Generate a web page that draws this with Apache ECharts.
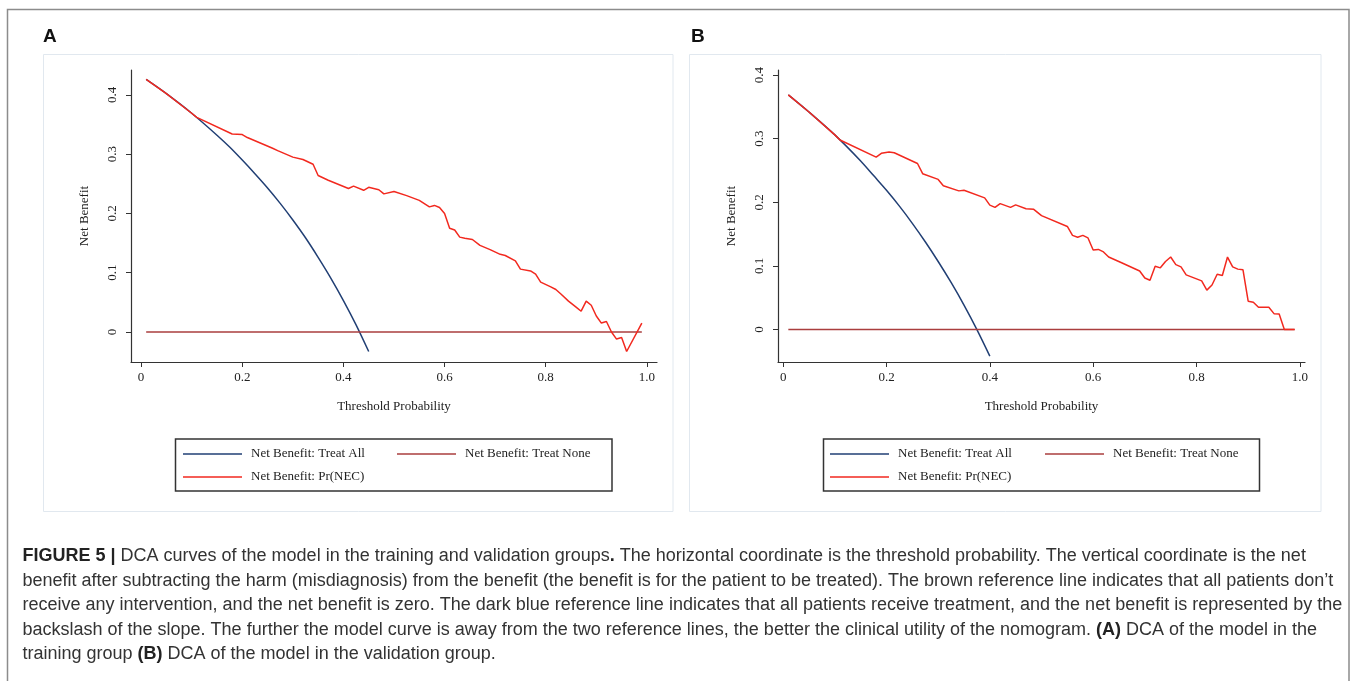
<!DOCTYPE html>
<html>
<head>
<meta charset="utf-8">
<title>DCA curves</title>
<script src="https://cdn.jsdelivr.net/npm/echarts@6/dist/echarts.min.js"></script>
<style>
html,body{margin:0;padding:0;background:#fff;}
#main{width:1357px;height:681px;}
</style>
</head>
<body>
<div id="main"></div>
<script>
// ---- data ----
// A: training group
var thrAllA = [0.01, 0.05, 0.10, 0.15, 0.175, 0.20, 0.225, 0.25, 0.275, 0.30, 0.325, 0.35, 0.375, 0.40, 0.425, 0.45];
var nbAllA  = [0.426, 0.402, 0.369, 0.332, 0.312, 0.290, 0.267, 0.243, 0.217, 0.189, 0.159, 0.126, 0.091, 0.053, 0.012, -0.033];
var thrModelA = [0.01, 0.05, 0.10, 0.11, 0.18, 0.20, 0.21, 0.26, 0.27, 0.30, 0.32, 0.34, 0.35, 0.37, 0.41, 0.42, 0.44, 0.45, 0.47, 0.48, 0.50,
                 0.525, 0.55, 0.57, 0.58, 0.59, 0.60, 0.61, 0.62, 0.63, 0.64, 0.655, 0.67, 0.69, 0.71, 0.72, 0.74, 0.75, 0.77, 0.78, 0.79,
                 0.81, 0.82, 0.83, 0.845, 0.86, 0.87, 0.88, 0.89, 0.90, 0.91, 0.92, 0.93, 0.94, 0.95, 0.96, 0.99];
var nbModelA  = [0.426, 0.402, 0.369, 0.362, 0.334, 0.333, 0.328, 0.310, 0.306, 0.295, 0.291, 0.283, 0.264, 0.256, 0.242, 0.246, 0.239, 0.244, 0.240, 0.233, 0.237,
                 0.230, 0.222, 0.211, 0.2135, 0.210, 0.200, 0.175, 0.172, 0.160, 0.158, 0.156, 0.146, 0.139, 0.131, 0.129, 0.120, 0.106, 0.103, 0.0975, 0.084,
                 0.076, 0.0716, 0.064, 0.052, 0.042, 0.035, 0.052, 0.045, 0.027, 0.015, 0.0176, 0.0, -0.012, -0.0095, -0.033, 0.015];

// B: validation group
var thrAllB = [0.01, 0.05, 0.10, 0.15, 0.175, 0.20, 0.225, 0.25, 0.275, 0.30, 0.325, 0.35, 0.375, 0.40];
var nbAllB  = [0.369, 0.342, 0.306, 0.265, 0.242, 0.219, 0.194, 0.167, 0.138, 0.107, 0.074, 0.0385, 0.0, -0.0417];
var thrModelB = [0.01, 0.05, 0.10, 0.11, 0.18, 0.19, 0.205, 0.215, 0.26, 0.27, 0.30, 0.31, 0.34, 0.35, 0.39, 0.40, 0.41, 0.42, 0.44, 0.45, 0.47,
                 0.485, 0.50, 0.55, 0.56, 0.57, 0.58, 0.59, 0.60, 0.61, 0.62, 0.63, 0.655, 0.69, 0.70, 0.71, 0.72, 0.73, 0.74, 0.75, 0.76,
                 0.77, 0.78, 0.81, 0.82, 0.83, 0.84, 0.85, 0.86, 0.87, 0.88, 0.89, 0.90, 0.91, 0.92, 0.94, 0.95, 0.96, 0.97, 0.99];
var nbModelB  = [0.369, 0.342, 0.306, 0.298, 0.271, 0.277, 0.279, 0.278, 0.261, 0.245, 0.236, 0.226, 0.218, 0.219, 0.207, 0.1955, 0.192, 0.198, 0.192, 0.196, 0.190,
                 0.189, 0.179, 0.162, 0.148, 0.145, 0.148, 0.144, 0.125, 0.126, 0.122, 0.114, 0.105, 0.092, 0.081, 0.0775, 0.0995, 0.097, 0.107, 0.114, 0.102,
                 0.0985, 0.086, 0.0765, 0.062, 0.070, 0.087, 0.085, 0.114, 0.0985, 0.095, 0.094, 0.0445, 0.043, 0.035, 0.035, 0.025, 0.0245, 0.0, 0.0];

// treat none is flat at zero
var thrNone = [0.01, 0.99];
var nbNone  = [0, 0];

var xTicks = [0, 0.2, 0.4, 0.6, 0.8, 1.0];
var yTicks = [0, 0.1, 0.2, 0.3, 0.4];

var seriesNames = ['Net Benefit: Treat All', 'Net Benefit: Treat None', 'Net Benefit: Pr(NEC)'];

// ---- chart ----
var SERIF = '"Liberation Serif", "Times New Roman", serif';
var SANS = '"Liberation Sans", Arial, sans-serif';
var cNavy = '#213f74', cBrown = '#aa3e3e', cRed = '#f2291f';

function zip(xs, ys){
	var out = [];
	for(var i = 0; i < xs.length; i++){
		out.push([xs[i], ys[i]]);
	}
	return out;
}

function fmt(v){
	return v === 0 ? '0' : v.toFixed(1);
}

function xAx(gi, min, max){
	return {
		type : 'value', gridIndex : gi, min : min, max : max,
		name : 'Threshold Probability', nameLocation : 'middle', nameGap : 38,
		nameTextStyle : {fontFamily : SERIF, fontSize : 13, color : '#222'},
		axisLine : {show : true, onZero : false, lineStyle : {color : '#333', width : 1.2}},
		axisTick : {show : true, length : 5, customValues : xTicks, lineStyle : {color : '#333'}},
		axisLabel : {customValues : xTicks, formatter : fmt, margin : 9, fontFamily : SERIF, fontSize : 13, color : '#222'},
		splitLine : {show : false}
	};
}

function yAx(gi, min, max){
	return {
		type : 'value', gridIndex : gi, min : min, max : max,
		name : 'Net Benefit', nameLocation : 'middle', nameGap : 40,
		nameTextStyle : {fontFamily : SERIF, fontSize : 13, color : '#222'},
		axisLine : {show : true, onZero : false, lineStyle : {color : '#333', width : 1.2}},
		axisTick : {show : true, length : 5, customValues : yTicks, lineStyle : {color : '#333'}},
		axisLabel : {customValues : yTicks, formatter : fmt, rotate : 90, margin : 12, fontFamily : SERIF, fontSize : 13, color : '#222'},
		splitLine : {show : false}
	};
}

function lineSeries(name, gi, data, color, smooth){
	return {
		name : name, type : 'line', xAxisIndex : gi, yAxisIndex : gi,
		data : data, symbol : 'none', smooth : smooth, silent : true,
		lineStyle : {color : color, width : 1.5},
		itemStyle : {color : color}
	};
}

// one legend per entry so the two columns sit where Stata put them
function legendItem(name, left, top){
	return {
		data : [name], left : left, top : top, padding : 0,
		icon : 'rect', itemWidth : 59, itemHeight : 1.6, selectedMode : false,
		textStyle : {fontFamily : SERIF, fontSize : 13, color : '#222', padding : [0, 0, 0, 4], lineHeight : 14}
	};
}

var caption = [
	'{b|FIGURE 5 |} DCA curves of the model in the training and validation groups{b|.} The horizontal coordinate is the threshold probability. The vertical coordinate is the net',
	'benefit after subtracting the harm (misdiagnosis) from the benefit (the benefit is for the patient to be treated). The brown reference line indicates that all patients don\u2019t',
	'receive any intervention, and the net benefit is zero. The dark blue reference line indicates that all patients receive treatment, and the net benefit is represented by the',
	'backslash of the slope. The further the model curve is away from the two reference lines, the better the clinical utility of the nomogram. {b|(A)} DCA of the model in the',
	'training group {b|(B)} DCA of the model in the validation group.'
];

var graphics = [
	{type : 'rect', silent : true, shape : {x : 7.5, y : 9.5, width : 1341.5, height : 700}, style : {fill : 'none', stroke : '#8c8c8c', lineWidth : 1.5}},
	{type : 'rect', silent : true, shape : {x : 43.5, y : 54.5, width : 629.5, height : 457}, style : {fill : 'none', stroke : '#e1e8ef', lineWidth : 1}},
	{type : 'rect', silent : true, shape : {x : 689.5, y : 54.5, width : 631.5, height : 457}, style : {fill : 'none', stroke : '#e1e8ef', lineWidth : 1}},
	{type : 'rect', silent : true, shape : {x : 175.5, y : 439, width : 436.5, height : 52}, style : {fill : 'none', stroke : '#333', lineWidth : 1.5}},
	{type : 'rect', silent : true, shape : {x : 823.5, y : 439, width : 436, height : 52}, style : {fill : 'none', stroke : '#333', lineWidth : 1.5}},
	{type : 'text', silent : true, x : 43, y : 37, style : {text : 'A', font : 'bold 19px ' + SANS, fill : '#111', verticalAlign : 'middle', textVerticalAlign : 'middle'}},
	{type : 'text', silent : true, x : 691, y : 37, style : {text : 'B', font : 'bold 19px ' + SANS, fill : '#111', verticalAlign : 'middle', textVerticalAlign : 'middle'}}
];
for(var i = 0; i < caption.length; i++){
	graphics.push({
		type : 'text', silent : true, x : 22.5, y : 556 + i * 24.6,
		style : {
			text : caption[i], fontFamily : SANS, fontSize : 18, fill : '#333',
			verticalAlign : 'middle', textVerticalAlign : 'middle',
			rich : {b : {fontFamily : SANS, fontSize : 18, fontWeight : 'bold', fill : '#222'}}
		}
	});
}

var option = {
	animation : false,
	backgroundColor : '#fff',
	textStyle : {fontFamily : SERIF},
	grid : [
		{left : 131, top : 70, width : 526, height : 292, containLabel : false, outerBoundsMode : 'none'},
		{left : 778, top : 70, width : 527, height : 292, containLabel : false, outerBoundsMode : 'none'}
	],
	xAxis : [xAx(0, -0.02, 1.02), xAx(1, -0.01, 1.01)],
	yAxis : [yAx(0, -0.0507, 0.442), yAx(1, -0.051, 0.408)],
	legend : [
		legendItem(seriesNames[0], 183, 447),
		legendItem(seriesNames[1], 397, 447),
		legendItem(seriesNames[2], 183, 470),
		legendItem(seriesNames[0], 830, 447),
		legendItem(seriesNames[1], 1045, 447),
		legendItem(seriesNames[2], 830, 470)
	],
	series : [
		lineSeries(seriesNames[0], 0, zip(thrAllA, nbAllA), cNavy, 0.3),
		lineSeries(seriesNames[1], 0, zip(thrNone, nbNone), cBrown, false),
		lineSeries(seriesNames[2], 0, zip(thrModelA, nbModelA), cRed, false),
		lineSeries(seriesNames[0], 1, zip(thrAllB, nbAllB), cNavy, 0.3),
		lineSeries(seriesNames[1], 1, zip(thrNone, nbNone), cBrown, false),
		lineSeries(seriesNames[2], 1, zip(thrModelB, nbModelB), cRed, false)
	],
	graphic : {elements : graphics}
};

var mycharts = echarts.init(document.getElementById('main'), null, {renderer : 'canvas'});
mycharts.setOption(option);
</script>
</body>
</html>
